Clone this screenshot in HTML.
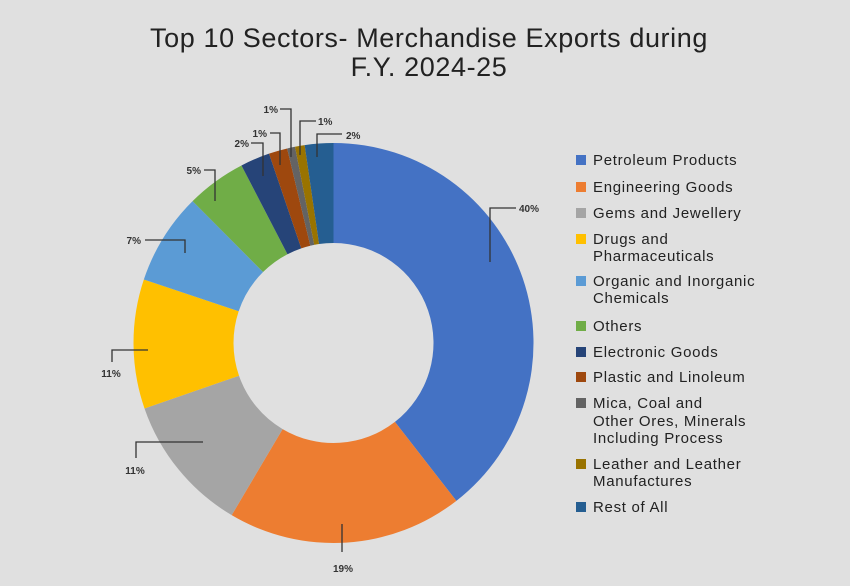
<!DOCTYPE html>
<html><head><meta charset="utf-8"><style>
html,body{margin:0;padding:0;background:#e0e0e0;}
svg{display:block;font-family:"Liberation Sans",sans-serif;}
</style></head><body>
<svg id="s" width="850" height="586" viewBox="0 0 850 586">
<rect width="850" height="586" fill="#e0e0e0"/>
<text x="429" y="47" font-size="27" letter-spacing="0.6" text-anchor="middle" fill="#222">Top 10 Sectors- Merchandise Exports during</text>
<text x="429" y="76" font-size="27" letter-spacing="0.6" text-anchor="middle" fill="#222">F.Y. 2024-25</text>
<g id="pie"></g>
<g stroke="#333" stroke-width="1.3" fill="none">
<polyline points="490,262 490,208 516,208"/>
<polyline points="342,524 342,552"/>
<polyline points="203,442 136,442 136,458"/>
<polyline points="148,350 112,350 112,362"/>
<polyline points="145,240 185,240 185,253"/>
<polyline points="204,170 215,170 215,201"/>
<polyline points="251,143 263,143 263,176"/>
<polyline points="270,133 280,133 280,165"/>
<polyline points="280,109 291,109 291,157"/>
<polyline points="316,121 300,121 300,155"/>
<polyline points="342,134 317,134 317,157"/>
</g>
<g font-size="10" font-weight="bold" fill="#333">
<text x="519" y="212">40%</text>
<text x="343" y="572" text-anchor="middle">19%</text>
<text x="135" y="474" text-anchor="middle">11%</text>
<text x="111" y="377" text-anchor="middle">11%</text>
<text x="141" y="244" text-anchor="end">7%</text>
<text x="201" y="174" text-anchor="end">5%</text>
<text x="249" y="147" text-anchor="end">2%</text>
<text x="267" y="137" text-anchor="end">1%</text>
<text x="278" y="113" text-anchor="end">1%</text>
<text x="318" y="125">1%</text>
<text x="346" y="139">2%</text>
</g>
<g font-size="15" letter-spacing="0.7" fill="#222">
<rect x="576" y="155" width="10" height="10" fill="#4472c4"/><text x="593" y="165">Petroleum Products</text>
<rect x="576" y="182" width="10" height="10" fill="#ed7d31"/><text x="593" y="192">Engineering Goods</text>
<rect x="576" y="208" width="10" height="10" fill="#a5a5a5"/><text x="593" y="218">Gems and Jewellery</text>
<rect x="576" y="234" width="10" height="10" fill="#ffc000"/><text x="593" y="244">Drugs and</text><text x="593" y="261">Pharmaceuticals</text>
<rect x="576" y="276" width="10" height="10" fill="#5b9bd5"/><text x="593" y="286">Organic and Inorganic</text><text x="593" y="303">Chemicals</text>
<rect x="576" y="321" width="10" height="10" fill="#70ad47"/><text x="593" y="331">Others</text>
<rect x="576" y="347" width="10" height="10" fill="#264478"/><text x="593" y="357">Electronic Goods</text>
<rect x="576" y="372" width="10" height="10" fill="#9e480e"/><text x="593" y="382">Plastic and Linoleum</text>
<rect x="576" y="398" width="10" height="10" fill="#636363"/><text x="593" y="408">Mica, Coal and</text><text x="593" y="426">Other Ores, Minerals</text><text x="593" y="443">Including Process</text>
<rect x="576" y="459" width="10" height="10" fill="#997300"/><text x="593" y="469">Leather and Leather</text><text x="593" y="486">Manufactures</text>
<rect x="576" y="502" width="10" height="10" fill="#255e91"/><text x="593" y="512">Rest of All</text>
</g>
</svg>
<script>
var b=[0,142.1,210.6,250.9,288.5,315.2,332.6,341.2,346.6,348.9,351.7,360];
var c=["#4472c4","#ed7d31","#a5a5a5","#ffc000","#5b9bd5","#70ad47","#264478","#9e480e","#636363","#997300","#255e91"];
var cx=333.5,cy=343,R=200,r=100,g=document.getElementById("pie"),h="";
function p(a,rad){a=a*Math.PI/180;return (cx+rad*Math.sin(a)).toFixed(2)+","+(cy-rad*Math.cos(a)).toFixed(2);}
for(var i=0;i<11;i++){var a0=b[i],a1=b[i+1],l=(a1-a0)>180?1:0;
h+='<path fill="'+c[i]+'" d="M'+p(a0,R)+' A'+R+','+R+' 0 '+l+' 1 '+p(a1,R)+' L'+p(a1,r)+' A'+r+','+r+' 0 '+l+' 0 '+p(a0,r)+' Z"/>';}
g.innerHTML=h;
</script>
</body></html>
